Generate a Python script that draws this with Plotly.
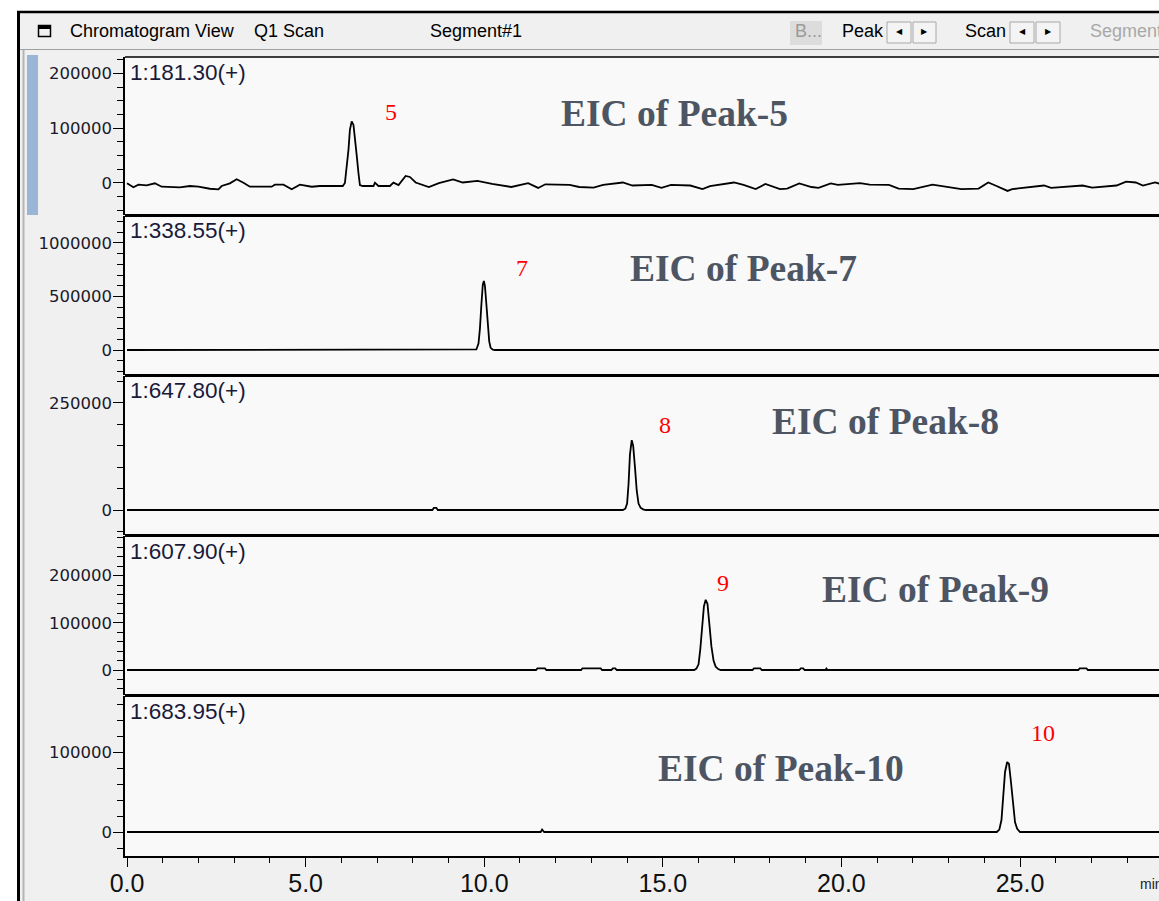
import plotly.graph_objects as go

# ---------------- data ----------------
# Panel 1: EIC m/z 181.30
p1_t = [0.00, 0.18, 0.32, 0.55, 0.78, 0.97, 1.48, 1.76, 2.00, 2.32, 2.56, 2.65, 2.88, 3.07, 3.26,
        3.44, 4.05, 4.14, 4.38, 4.61, 4.84, 5.17, 5.40, 5.64, 6.04, 6.10, 6.15, 6.20, 6.24, 6.29,
        6.34, 6.38, 6.43, 6.48, 6.52, 6.60, 6.90, 6.94, 7.04, 7.36, 7.46, 7.60, 7.80, 7.92, 8.08,
        8.45, 8.73, 9.13, 9.40, 9.81, 10.22, 10.76, 11.23, 11.51, 11.71, 12.39, 12.66, 13.06, 13.33,
        13.88, 14.15, 14.69, 14.96, 15.23, 15.77, 16.11, 16.32, 16.99, 17.26, 17.60, 17.87, 18.28,
        18.48, 18.82, 19.16, 19.36, 19.70, 19.90, 20.52, 20.79, 21.33, 21.60, 22.01, 22.55, 22.82,
        23.36, 23.84, 24.11, 24.31, 24.65, 24.78, 25.12, 25.67, 25.87, 26.34, 26.75, 27.02, 27.70,
        27.97, 28.24, 28.44, 28.78, 28.95]
p1_v = [-600, -7900, -3100, -4200, -600, -6800, -7900, -5500, -6800, -10500, -11600, -5500, -600, 6800, 600,
        -6800, -6800, -3100, -3100, -11500, -3100, -6800, -5500, -5500, -5500, 0, 27000, 60500, 97000, 112500,
        106000, 85000, 51000, 17800, -3700, -5500, -5500, 600, -5500, -5500, 600, -3700, 12800, 11000, 900,
        -7300, -200, 6400, 900, 3700, -1800, -7300, -200, -9000, -2400, -3500, -7300, -8400, -3500,
        900, -4600, -3500, -9000, -3500, -4600, -11200, -5700, 900, -3500, -11200, -1800, -11200,
        -10100, -700, -7300, -9000, -700, -3500, -200, -2900, -3500, -10100, -11200, -2900, -5700,
        -11200, -10100, 900, -4600, -14500, -11200, -9000, -4600, -9000, -7300, -4600, -8400, -4600,
        2600, 900, -4600, 900, -2000]

# Panel 2: EIC m/z 338.55
p2_t = [0.00, 9.70, 9.78, 9.84, 9.88, 9.92, 9.96, 9.99, 10.02, 10.06, 10.10, 10.14, 10.18, 10.24, 10.30, 28.95]
p2_v = [0, 0, 5000, 60000, 200000, 420000, 610000, 645000, 600000, 430000, 220000, 80000, 20000, 3000, 0, 0]

# Panel 3: EIC m/z 647.80
p3_t = [0.00, 8.55, 8.59, 8.66, 8.70, 13.88, 13.95, 14.00, 14.04, 14.08, 14.13, 14.17, 14.22, 14.27,
        14.32, 14.38, 14.45, 14.52, 28.95]
p3_v = [0, 0, 5000, 5000, 0, 0, 3000, 15000, 60000, 130000, 163000, 150000, 100000, 45000,
        15000, 5000, 1500, 0, 0]

# Panel 4: EIC m/z 607.90
p4_t = [0.00, 11.45, 11.49, 11.70, 11.74, 12.71, 12.75, 13.26, 13.30, 13.56, 13.60, 13.67, 13.71,
        15.88, 15.94, 16.00, 16.05, 16.10, 16.15, 16.20, 16.25, 16.30, 16.36, 16.42, 16.48, 16.55, 16.62,
        17.51, 17.55, 17.73, 17.77, 18.82, 18.86, 18.93, 18.97, 19.55, 19.58, 19.61,
        26.63, 26.67, 26.86, 26.90, 28.95]
p4_v = [0, 0, 3500, 3500, 0, 0, 3500, 3500, 0, 0, 3500, 3500, 0,
        0, 3000, 12000, 45000, 95000, 135000, 149000, 140000, 100000, 50000, 20000, 7000, 2000, 0,
        0, 3500, 3500, 0, 0, 3500, 3500, 0, 0, 3000, 0,
        0, 3500, 3500, 0, 0]

# Panel 5: EIC m/z 683.95
p5_t = [0.00, 11.58, 11.62, 11.68, 24.35, 24.42, 24.48, 24.53, 24.58, 24.64, 24.69, 24.74, 24.80,
        24.86, 24.92, 25.00, 28.95]
p5_v = [0, 0, 3000, 0, 0, 3000, 15000, 45000, 75000, 87500, 85000, 65000, 35000,
        12000, 4000, 0, 0]

mass_labels = ["1:181.30(+)", "1:338.55(+)", "1:647.80(+)", "1:607.90(+)", "1:683.95(+)"]
peak_numbers = ["5", "7", "8", "9", "10"]
eic_titles = ["EIC of Peak-5", "EIC of Peak-7", "EIC of Peak-8", "EIC of Peak-9", "EIC of Peak-10"]

# ---------------- layout helpers ----------------
W, H = 1159, 901


def px(x):
    return x / W


def py(y):
    return 1 - y / H


series = [(p1_t, p1_v), (p2_t, p2_v), (p3_t, p3_v), (p4_t, p4_v), (p5_t, p5_v)]
panel_px = [(57, 215), (216, 375), (376, 535), (536, 695), (696, 856)]
y_ranges = [[-58400, 229900], [-233600, 1252000], [-58400, 313000], [-53000, 284200], [-30000, 170000]]
y_dticks = [100000, 500000, 250000, 100000, 100000]
y_minor = [25000, 100000, 50000, 20000, 20000]
label_y = [72, 230, 390, 551, 711]
num_pos = [(391, 112), (522, 268), (665, 425), (723, 583), (1043, 733)]
eic_pos = [(674, 113), (743, 268), (885, 421), (935, 589), (781, 768)]

fig = go.Figure()
for i, (t, v) in enumerate(series):
    fig.add_trace(go.Scatter(
        x=t, y=v, mode="lines", line=dict(color="black", width=1.8),
        xaxis="x", yaxis="y" if i == 0 else f"y{i+1}",
        showlegend=False, hoverinfo="skip"))

layout = dict(
    template="none",
    width=W, height=H, autosize=False,
    margin=dict(l=0, r=0, t=0, b=0, pad=0),
    paper_bgcolor="#f0f0f0",
    plot_bgcolor="#f9f9f9",
    showlegend=False,
    xaxis=dict(
        domain=[px(125), 1], anchor="y5", range=[-0.056, 28.89],
        showgrid=False, zeroline=False, showline=True, linecolor="black", linewidth=1.5,
        ticks="outside", ticklen=9, tickwidth=1.2, tickcolor="black",
        tickmode="linear", tick0=0, dtick=5, tickformat=".1f",
        tickfont=dict(family="Liberation Sans, Arial", size=25, color="#111111"),
        ticklabelstandoff=-5,
        minor=dict(dtick=1, tick0=0, ticks="outside", ticklen=5, tickwidth=1, tickcolor="black", showgrid=False),
        automargin=False, fixedrange=True,
    ),
)
for i in range(5):
    top, bot = panel_px[i]
    key = "yaxis" if i == 0 else f"yaxis{i+1}"
    layout[key] = dict(
        domain=[py(bot), py(top)], anchor="x", range=y_ranges[i],
        showgrid=False, zeroline=False, showline=True, linecolor="black", linewidth=1.5,
        ticks="outside", ticklen=10, tickwidth=1, tickcolor="black",
        tickmode="linear", tick0=0, dtick=y_dticks[i], tickformat="d",
        tickfont=dict(family="DejaVu Sans", size=16.5, color="#1a1a2a"),
        ticklabelstandoff=-2,
        minor=dict(dtick=y_minor[i], tick0=0, ticks="outside", ticklen=6, tickwidth=1,
                   tickcolor="black", showgrid=False),
        automargin=False, fixedrange=True,
    )

shapes = []
# white outer strips and window border
shapes.append(dict(type="rect", xref="paper", yref="paper", x0=0, x1=1, y0=py(11), y1=1,
                   fillcolor="white", line=dict(width=0), layer="above"))
shapes.append(dict(type="rect", xref="paper", yref="paper", x0=0, x1=px(17), y0=0, y1=1,
                   fillcolor="white", line=dict(width=0), layer="above"))
shapes.append(dict(type="line", xref="paper", yref="paper", x0=px(17), x1=1, y0=py(12), y1=py(12),
                   line=dict(color="black", width=2.5)))
shapes.append(dict(type="line", xref="paper", yref="paper", x0=px(18.5), x1=px(18.5), y0=py(12), y1=0,
                   line=dict(color="black", width=3)))
shapes.append(dict(type="line", xref="paper", yref="paper", x0=px(23.5), x1=px(23.5), y0=py(50), y1=0,
                   line=dict(color="#b4b4b4", width=2)))
shapes.append(dict(type="line", xref="paper", yref="paper", x0=px(20), x1=1, y0=py(49.5), y1=py(49.5),
                   line=dict(color="#a0a0a0", width=1)))
# blue side bar
shapes.append(dict(type="rect", xref="paper", yref="paper", x0=px(27), x1=px(38), y0=py(215), y1=py(55),
                   fillcolor="#9bb5d6", line=dict(width=0)))
# header icon
shapes.append(dict(type="rect", xref="paper", yref="paper", x0=px(38.5), x1=px(50.5), y0=py(36.5), y1=py(25.5),
                   fillcolor="rgba(0,0,0,0)", line=dict(color="black", width=1.5)))
shapes.append(dict(type="rect", xref="paper", yref="paper", x0=px(38.5), x1=px(50.5), y0=py(29), y1=py(25.5),
                   fillcolor="black", line=dict(width=0)))
# header buttons
shapes.append(dict(type="rect", xref="paper", yref="paper", x0=px(790), x1=px(822), y0=py(45), y1=py(21),
                   fillcolor="#dcdcdc", line=dict(width=0)))
for (a, b) in [(887, 911), (913, 936), (1010, 1034), (1036, 1060)]:
    shapes.append(dict(type="rect", xref="paper", yref="paper", x0=px(a), x1=px(b), y0=py(43), y1=py(22),
                       fillcolor="#f4f4f4", line=dict(color="#a8a8a8", width=1)))
# panel frame lines
shapes.append(dict(type="line", xref="paper", yref="paper", x0=px(125), x1=1, y0=py(57), y1=py(57),
                   line=dict(color="black", width=1.5)))
for yb in [215.5, 375.5, 535.5, 695.5]:
    shapes.append(dict(type="line", xref="paper", yref="paper", x0=px(125), x1=1, y0=py(yb), y1=py(yb),
                       line=dict(color="black", width=3)))
layout["shapes"] = shapes

ann = []
hdr_font = dict(family="Liberation Sans, Arial", size=18, color="black")
for text, x, col in [("Chromatogram View", 68, "black"), ("Q1 Scan", 252, "black"),
                     ("Segment#1", 428, "black"), ("B...", 793, "#9a9a9a"),
                     ("Peak", 840, "black"), ("Scan", 963, "black"), ("Segment", 1088, "#a8a8a8")]:
    ann.append(dict(text=text, xref="paper", yref="paper", x=px(x), y=py(31), xanchor="left",
                    yanchor="middle", showarrow=False, font=dict(hdr_font, color=col)))
for text, x in [("◀", 899), ("▶", 924.5), ("◀", 1022), ("▶", 1048)]:
    ann.append(dict(text=text, xref="paper", yref="paper", x=px(x), y=py(32), xanchor="center",
                    yanchor="middle", showarrow=False,
                    font=dict(family="DejaVu Sans", size=8, color="black")))
for i in range(5):
    ann.append(dict(text=mass_labels[i], xref="paper", yref="paper", x=px(128), y=py(label_y[i]),
                    xanchor="left", yanchor="middle", showarrow=False,
                    font=dict(family="Liberation Sans, Arial", size=22.5, color="#1a1a3a")))
    ann.append(dict(text=peak_numbers[i], xref="paper", yref="paper", x=px(num_pos[i][0]),
                    y=py(num_pos[i][1]), xanchor="center", yanchor="middle", showarrow=False,
                    font=dict(family="Liberation Serif, Times New Roman", size=24, color="#ff0000")))
    ann.append(dict(text="<b>" + eic_titles[i] + "</b>", xref="paper", yref="paper",
                    x=px(eic_pos[i][0]), y=py(eic_pos[i][1]), xanchor="center", yanchor="middle",
                    showarrow=False,
                    font=dict(family="Liberation Serif, Times New Roman", size=37.5, color="#4d5563")))
ann.append(dict(text="min", xref="paper", yref="paper", x=px(1138), y=py(884), xanchor="left",
                yanchor="middle", showarrow=False,
                font=dict(family="Liberation Sans, Arial", size=14, color="#222222")))
layout["annotations"] = ann

fig.update_layout(**layout)
fig.write_html("out.html", config={"displayModeBar": False})
